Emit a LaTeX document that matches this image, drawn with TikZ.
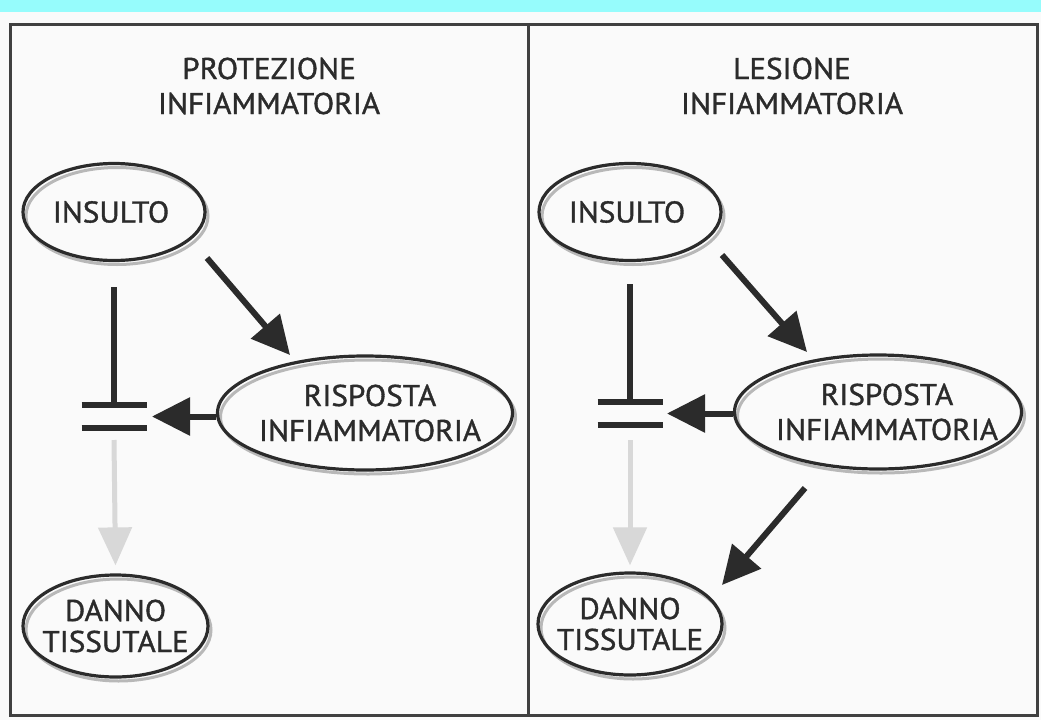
\documentclass[tikz,border=0pt]{standalone}
\usepackage{fontspec}
\setmainfont{PT Sans}[FakeStretch=1.04,FakeBold=1.2]
\usetikzlibrary{shapes.geometric,arrows.meta,shadows}
\definecolor{ink}{HTML}{2B2B2B}
\definecolor{paper}{HTML}{FAFAFA}
\definecolor{band}{HTML}{96FCFC}
\definecolor{faint}{HTML}{D8D8D8}
\definecolor{shade}{HTML}{A8A8A8}
\tikzset{
  frameline/.style={draw=ink!90, line width=3pt},
  bubble/.style={ellipse, draw=ink, line width=3.2pt, inner sep=0pt,
    drop shadow={fill=none, draw=shade, opacity=0.8, shadow xshift=3pt, shadow yshift=-4pt, line width=3pt}},
  label/.style={align=center, text=ink, inner sep=0pt, font=\fontsize{30}{35}\selectfont},
  darr/.style={draw=ink, line width=6pt, -{Triangle[length=38pt,width=37pt]}},
  larr/.style={draw=faint, line width=5pt, -{Triangle[length=38pt,width=33pt]}},
  blockbar/.style={draw=ink, line width=6.5pt},
}
\begin{document}
\begin{tikzpicture}[x=1pt,y=-1pt]
\useasboundingbox (0,0) rectangle (1041,720);
% page and scanner band
\fill[paper] (0,0) rectangle (1041,720);
\fill[band] (0,0) rectangle (1041,12);
% outer frame and divider
\draw[frameline] (10,24) rectangle (1037,715);
\draw[frameline] (528,24) -- (528,715);

% ---------- left panel: protezione ----------
\node[label] (tl) at (269,86) {PROTEZIONE\\INFIAMMATORIA};
\node[bubble, minimum width=182pt, minimum height=97pt] (ins1) at (114,212) {};
\node[label] (ins1t) at ([xshift=-3pt]ins1) {INSULTO};
\node[bubble, minimum width=295pt, minimum height=114pt] (risp1) at (365,413) {};
\node[label] (risp1t) at ([xshift=5pt]risp1) {RISPOSTA\\INFIAMMATORIA};
\node[bubble, minimum width=185pt, minimum height=102pt] (dan1) at (115.5,626) {};
\node[label, font=\fontsize{30}{31}\selectfont] (dan1t) at (dan1) {DANNO\\TISSUTALE};

% blocking symbol: centre between the two bars
\coordinate (blk1) at (114,416.5);
\coordinate (t1a) at (114,287);
\coordinate (a1s) at (207,258);
\coordinate (a1e) at (290,355);
\coordinate (g1s) at (114,440);

\draw[darr] (a1s) -- (a1e);
\draw[blockbar] (t1a) -- ([yshift=11.5pt]blk1);
\draw[blockbar] ([xshift=-32.5pt,yshift=11.5pt]blk1) -- ([xshift=32.5pt,yshift=11.5pt]blk1);
\draw[blockbar] ([xshift=-32.5pt,yshift=-11.5pt]blk1) -- ([xshift=32.5pt,yshift=-11.5pt]blk1);
\draw[darr] (risp1.west |- blk1) -- ([xshift=38pt]blk1);
\draw[larr] (g1s) -- ([yshift=8pt]dan1.north);

% ---------- right panel: lesione ----------
\node[label] (tr) at (792,86) {LESIONE\\INFIAMMATORIA};
\node[bubble, minimum width=182pt, minimum height=97pt] (ins2) at (630,212) {};
\node[label] (ins2t) at ([xshift=-3pt]ins2) {INSULTO};
\node[bubble, minimum width=287pt, minimum height=114pt] (risp2) at (878,412) {};
\node[label] (risp2t) at ([xshift=9pt]risp2) {RISPOSTA\\INFIAMMATORIA};
\node[bubble, minimum width=184pt, minimum height=102pt] (dan2) at (630,624) {};
\node[label, font=\fontsize{30}{31}\selectfont] (dan2t) at (dan2) {DANNO\\TISSUTALE};

\coordinate (blk2) at (630,413.5);
\coordinate (t2a) at (630,284);
\coordinate (a2s) at (722,255);
\coordinate (a2e) at (807,352);
\coordinate (g2s) at (630,440);
\coordinate (a3s) at (805,488);
\coordinate (a3e) at (722,585);

\draw[darr] (a2s) -- (a2e);
\draw[blockbar] (t2a) -- ([yshift=11.5pt]blk2);
\draw[blockbar] ([xshift=-32.5pt,yshift=11.5pt]blk2) -- ([xshift=32.5pt,yshift=11.5pt]blk2);
\draw[blockbar] ([xshift=-32.5pt,yshift=-11.5pt]blk2) -- ([xshift=32.5pt,yshift=-11.5pt]blk2);
\draw[darr] (risp2.west |- blk2) -- ([xshift=37pt]blk2);
\draw[larr] (g2s) -- ([yshift=6pt]dan2.north);
\draw[darr] (a3s) -- (a3e);
\end{tikzpicture}
\end{document}
